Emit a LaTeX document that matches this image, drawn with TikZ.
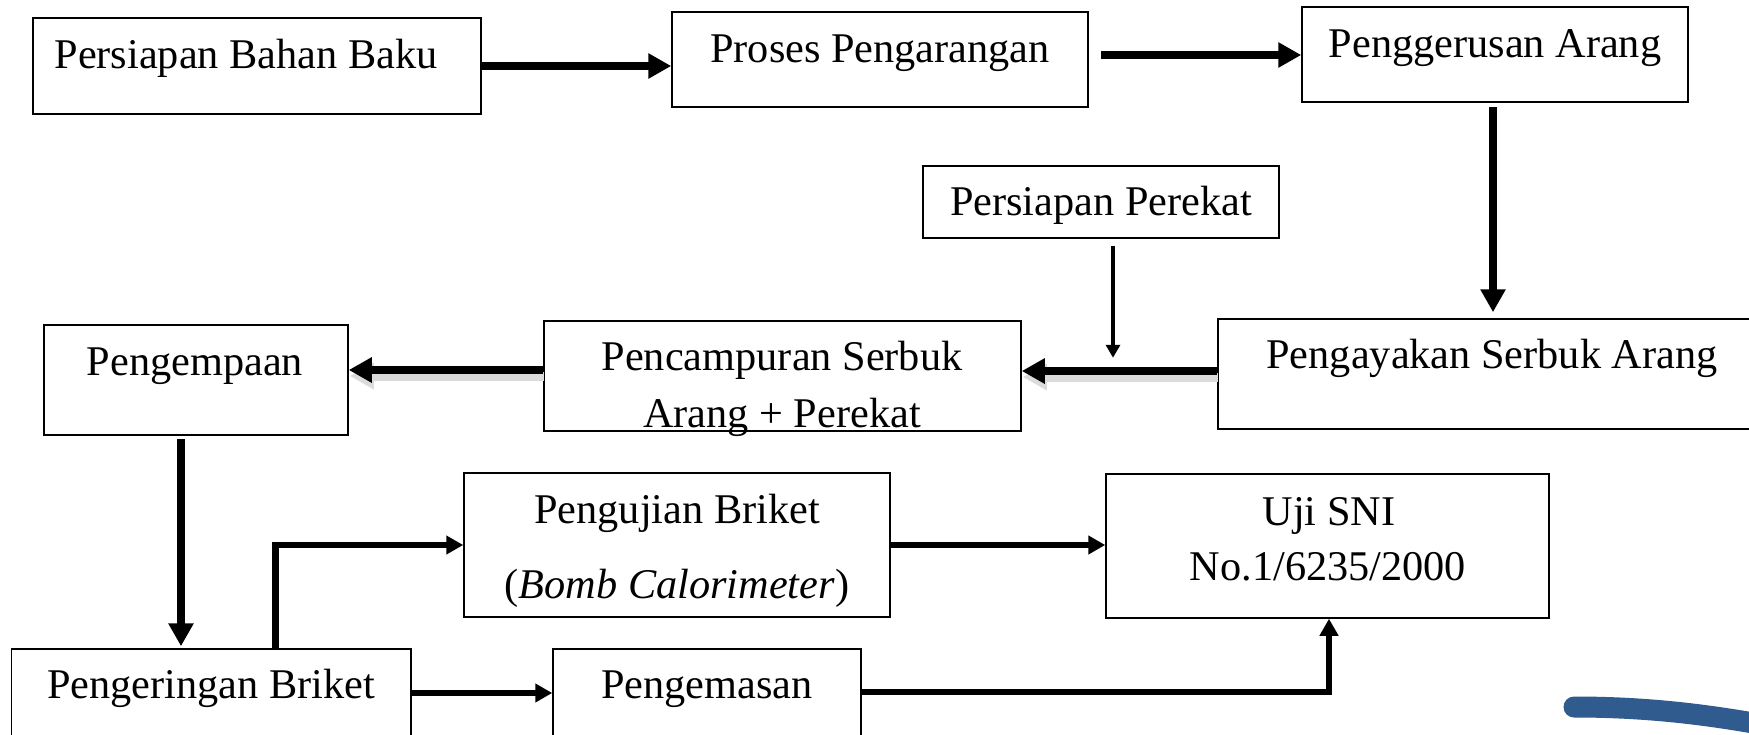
\documentclass[tikz,border=0pt]{standalone}
\usepackage{fontspec}
\setmainfont{Liberation Serif}
\usetikzlibrary{arrows.meta,calc}
\definecolor{strokeblue}{HTML}{2F5B8E}
\begin{document}
\begin{tikzpicture}[x=1pt,y=-1pt,
  box/.style={draw=black, line width=1.5pt, rectangle, inner sep=0pt},
  txt/.style={font=\fontsize{42.3}{50}\selectfont, inner sep=0pt, anchor=base},
  bigarrow/.style={line width=8pt, -{Triangle[length=23pt,width=24pt]}},
  arrowshadow/.style={line width=9pt, black!14, -{Triangle[length=24pt,width=25pt]}},
  midarrow/.style={line width=6.5pt, -{Triangle[length=17pt,width=18pt]}},
  thinarrow/.style={line width=4pt, -{Triangle[length=13pt,width=14pt]}},
]
\clip (0,0) rectangle (1749,734);
\fill[white] (0,0) rectangle (1749,734);

% boxes
\node[box, minimum width=448pt, minimum height=96pt]  (b1)  at (257,66) {};
\node[box, minimum width=416pt, minimum height=95pt]  (b2)  at (880,59.5) {};
\node[box, minimum width=386pt, minimum height=95pt]  (b3)  at (1495,54.5) {};
\node[box, minimum width=356pt, minimum height=72pt]  (b4)  at (1101,202) {};
\node[box, minimum width=542pt, minimum height=110pt] (b5)  at (1489,374) {};
\node[box, minimum width=477pt, minimum height=110pt] (b6)  at (782.5,376) {};
\node[box, minimum width=304pt, minimum height=110pt] (b7)  at (196,380) {};
\node[box, minimum width=399.5pt, minimum height=121pt] (b8) at (211.25,709.5) {};
\node[box, minimum width=426pt, minimum height=144pt] (b9)  at (677,545) {};
\node[box, minimum width=308pt, minimum height=121pt] (b10) at (707,709.5) {};
\node[box, minimum width=443pt, minimum height=144pt] (b11) at (1327.5,546) {};

% texts
\node[txt] (t1)  at (246,68)  {Persiapan Bahan Baku};
\node[txt] (t2)  at (880,62)  {Proses Pengarangan};
\node[txt] (t3)  at (1495,57) {Penggerusan Arang};
\node[txt] (t4)  at (1101,215) {Persiapan Perekat};
\node[txt] (t5)  at (1492,368) {Pengayakan Serbuk Arang};
\node[txt] (t6a) at (782,370) {Pencampuran Serbuk};
\node[txt] (t6b) at (782,427) {Arang + Perekat};
\node[txt] (t7)  at (195,375) {Pengempaan};
\node[txt] (t8)  at (211,698) {Pengeringan Briket};
\node[txt] (t9a) at (677,523) {Pengujian Briket};
\node[txt] (t9b) at (677,598) {(\textit{Bomb Calorimeter})};
\node[txt] (t10) at (707,698) {Pengemasan};
\node[txt] (t11a) at (1329,525) {Uji SNI};
\node[txt] (t11b) at (1328,580) {No.1/6235/2000};

% connectors
\draw[bigarrow] (b1.east) -- (b1.east -| b2.west);
\coordinate (a2s) at ($(b2.east)+(12,-4.5)$);
\draw[bigarrow] (a2s) -- (a2s -| b3.west);
\coordinate (a3s) at ($(b3.south)+(-2,4)$);
\draw[bigarrow] (a3s) -- ($(a3s |- b5.north)+(0,-6)$);
\draw[arrowshadow] ([xshift=1pt,yshift=-3pt]b5.west) -- ([xshift=1pt,yshift=-3pt]b5.west -| b6.east);
\draw[bigarrow] ([yshift=3pt]b5.west) -- ([yshift=3pt]b5.west -| b6.east);
\coordinate (a5s) at ($(b4.south)+(12,7)$);
\coordinate (a5e) at ($(a5s)+(0,112)$);
\draw[thinarrow] (a5s) -- (a5e);
\draw[arrowshadow] ([xshift=1pt]b6.west) -- ([xshift=1pt]b6.west -| b7.east);
\draw[bigarrow] ([yshift=6pt]b6.west) -- ([yshift=6pt]b6.west -| b7.east);
\coordinate (a7s) at ($(b7.south)+(-15,3)$);
\draw[bigarrow] (a7s) -- ($(a7s |- b8.north)+(0,-2)$);
\draw[midarrow] ([xshift=64pt]b8.north) |- (b9.west);
\draw[midarrow] (b9.east) -- (b9.east -| b11.west);
\draw[midarrow] ([yshift=16.5pt]b8.east) -- ([yshift=16.5pt]b8.east -| b10.west);
\draw[midarrow] ([yshift=17.5pt]b10.east) -| ([xshift=1.5pt]b11.south);

% decorative brush stroke
\draw[line width=21pt, line cap=round, strokeblue] (1574,707) .. controls (1640,707) and (1700,713) .. (1770,726);
\end{tikzpicture}
\end{document}
